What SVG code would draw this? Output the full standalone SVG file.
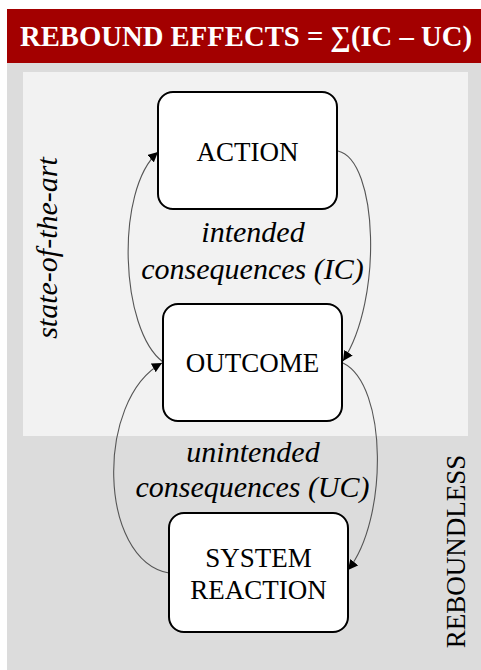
<svg xmlns="http://www.w3.org/2000/svg" width="481" height="670" viewBox="0 0 481 670">
<defs>
<style>
.node rect{fill:#ffffff;stroke:#000000;stroke-width:2}
.lbl{font-family:'Liberation Serif','Times New Roman',Tinos,'DejaVu Serif',serif;font-size:27px;fill:#000000;text-anchor:middle}
.it{font-family:'Liberation Serif','Times New Roman',Tinos,'DejaVu Serif',serif;font-style:italic;font-size:30px;fill:#000000;text-anchor:middle}
.hdr{font-family:'Liberation Serif','Times New Roman',Tinos,'DejaVu Serif',serif;font-weight:bold;font-size:28.7px;fill:#ffffff}
.conn{fill:none;stroke:#555555;stroke-width:1.1}
</style>
<marker id="arr" viewBox="0 0 10 10" refX="10" refY="5" markerWidth="10" markerHeight="10" markerUnits="userSpaceOnUse" orient="auto">
<path d="M0,0 L10,5 L0,10 z" fill="#000000"/>
</marker>
</defs>
<rect x="0" y="0" width="481" height="670" fill="#ffffff"/>
<rect x="7" y="63" width="474" height="607" fill="#dcdcdc"/>
<rect x="23" y="72" width="445" height="364" fill="#f2f2f2"/>
<g id="header">
<rect x="7" y="9" width="474" height="54" fill="#a30000"/>
<text class="hdr" x="20" y="46">REBOUND EFFECTS = ∑(IC – UC)</text>
</g>
<text transform="translate(57,248) rotate(-90)" class="it" font-size="31">state-of-the-art</text>
<text transform="translate(465,551.5) rotate(-90)" class="lbl" font-size="29">REBOUNDLESS</text>
<g id="connectors">
<path class="conn" d="M338,151 C378,160 383,300 343,361" marker-end="url(#arr)"/>
<path class="conn" d="M163,362 C120,330 115,190 158,152" marker-end="url(#arr)"/>
<path class="conn" d="M343,363 C388,385 388,520 348,570" marker-end="url(#arr)"/>
<path class="conn" d="M169,573 C98,560 95,400 162,363" marker-end="url(#arr)"/>
</g>
<g id="action" class="node">
<rect x="158" y="92" width="179" height="117" rx="15"/>
<text class="lbl" x="247.5" y="161">ACTION</text>
</g>
<g id="outcome" class="node">
<rect x="163" y="304" width="179" height="117" rx="15"/>
<text class="lbl" x="252.5" y="372">OUTCOME</text>
</g>
<g id="system-reaction" class="node">
<rect x="169" y="513" width="179" height="119" rx="15"/>
<text class="lbl" x="258.5" y="567">SYSTEM</text>
<text class="lbl" x="258.5" y="599">REACTION</text>
</g>
<g id="ic-label">
<text class="it" x="253" y="242">intended</text>
<text class="it" x="252.5" y="279">consequences (IC)</text>
</g>
<g id="uc-label">
<text class="it" x="253" y="462">unintended</text>
<text class="it" x="252.5" y="497">consequences (UC)</text>
</g>
</svg>
